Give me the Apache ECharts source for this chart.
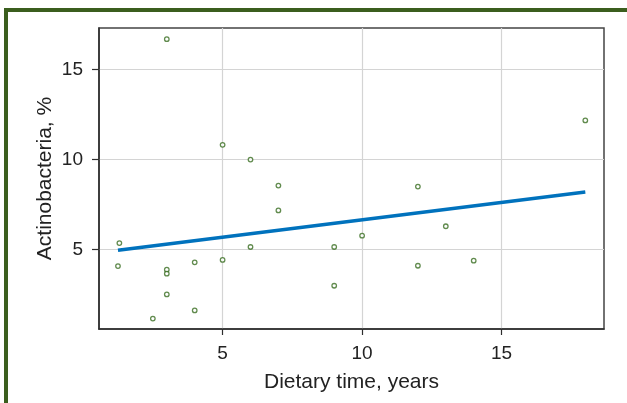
<!DOCTYPE html>
<html>
<head>
<meta charset="utf-8">
<script src="https://cdn.jsdelivr.net/npm/echarts@6/dist/echarts.min.js"></script>
<style>
html,body{margin:0;padding:0;background:#fff;}
#main{width:627px;height:403px;}
</style>
</head>
<body>
<div id="main"></div>
<script>
// Scatter data: dietary time (years) vs Actinobacteria (%)
const dietaryYears = [3.0, 5.0, 6.0, 7.0, 7.0, 1.3, 1.25, 3.0, 3.0, 3.0, 4.0, 5.0, 4.0, 2.5, 6.0, 9.0, 9.0, 18.0, 12.0, 13.0, 10.0, 12.0, 14.0];
const actinoPct    = [16.68, 10.82, 10.0, 8.56, 7.18, 5.37, 4.09, 3.89, 3.67, 2.52, 4.3, 4.43, 1.63, 1.18, 5.15, 5.15, 3.0, 12.17, 8.5, 6.3, 5.78, 4.11, 4.39];
// Fitted regression line endpoints
const fitX = [1.25, 18.0];
const fitY = [4.97, 8.2];
// Tick labels
const xTicks = [5, 10, 15];
const yTicks = [5, 10, 15];

const scatterData = dietaryYears.map((x, i) => [x, actinoPct[i]]);
const fitData = fitX.map((x, i) => [x, fitY[i]]);

const chart = echarts.init(document.getElementById('main'), null, {renderer: 'canvas'});
const FONT = 'Liberation Sans, Arial, Helvetica, sans-serif';
const axisCol = '#2e2e2e';
chart.setOption({
  animation: false,
  backgroundColor: '#fff',
  graphic: [
    {type: 'rect', shape: {x: 4, y: 8, width: 623, height: 4}, style: {fill: '#3b5e1e'}, z: 100},
    {type: 'rect', shape: {x: 4, y: 8, width: 4, height: 395}, style: {fill: '#3b5e1e'}, z: 100}
  ],
  grid: {left: 99, right: 23, top: 28, bottom: 74, show: true, borderColor: '#444', borderWidth: 1.5, backgroundColor: 'transparent'},
  xAxis: {
    type: 'value', min: 0.57, max: 18.67, splitNumber: 4,
    name: 'Dietary time, years', nameLocation: 'middle', nameGap: 43, nameMoveOverlap: false,
    nameTextStyle: {fontFamily: FONT, fontSize: 21, color: '#222'},
    axisLine: {show: true, lineStyle: {color: axisCol, width: 1.5}},
    axisTick: {show: true, inside: false, length: 6, customValues: xTicks, lineStyle: {color: axisCol, width: 1.2}},
    axisLabel: {customValues: xTicks, margin: 15, fontFamily: FONT, fontSize: 19, color: '#222'},
    splitLine: {show: true, lineStyle: {color: '#d4d4d4', width: 1.2}}
  },
  yAxis: {
    type: 'value', min: 0.6, max: 17.3, splitNumber: 4,
    name: 'Actinobacteria, %', nameLocation: 'middle', nameGap: 43, nameRotate: 90, nameMoveOverlap: false,
    nameTextStyle: {fontFamily: FONT, fontSize: 21, color: '#222'},
    axisLine: {show: true, lineStyle: {color: axisCol, width: 1.5}},
    axisTick: {show: true, inside: false, length: 7, customValues: yTicks, lineStyle: {color: axisCol, width: 1.2}},
    axisLabel: {customValues: yTicks, margin: 16, fontFamily: FONT, fontSize: 19, color: '#222'},
    splitLine: {show: true, lineStyle: {color: '#d4d4d4', width: 1.2}}
  },
  series: [
    {
      type: 'scatter', data: scatterData, symbol: 'circle', symbolSize: 4.5,
      itemStyle: {color: '#ffffff', borderColor: '#3a6e22', borderWidth: 1.3},
      z: 3
    },
    {
      type: 'line', data: fitData, showSymbol: false, symbol: 'none',
      lineStyle: {color: '#0072BD', width: 3.5},
      z: 4
    }
  ]
});
</script>
</body>
</html>
